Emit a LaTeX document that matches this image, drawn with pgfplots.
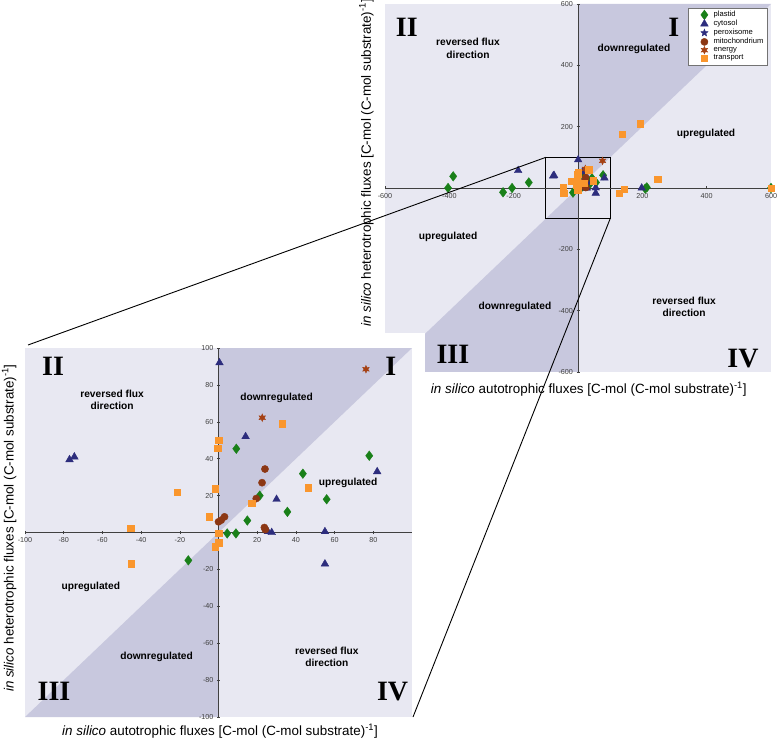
\documentclass[border=0pt]{standalone}
\usepackage{fontspec}
\setmainfont{Liberation Sans}
\newfontfamily\romanfont{Liberation Serif}
\usepackage{pgfplots}
\pgfplotsset{compat=1.18}
\usepackage{pgfplotstable}

\definecolor{bglight}{RGB}{232,232,242}
\definecolor{bgdark}{RGB}{200,200,222}
\definecolor{cplastid}{RGB}{25,128,25}
\definecolor{cnavy}{RGB}{45,45,125}
\definecolor{cmito}{RGB}{140,55,20}
\definecolor{cenergy}{RGB}{165,65,20}
\definecolor{ctrans}{RGB}{250,150,45}

% six-pointed filled star (energy)
\pgfdeclareplotmark{hexstar}{%
  \pgfpathmoveto{\pgfpointpolar{90}{\pgfplotmarksize}}%
  \pgfpathlineto{\pgfpointpolar{120}{0.5\pgfplotmarksize}}%
  \pgfpathlineto{\pgfpointpolar{150}{\pgfplotmarksize}}%
  \pgfpathlineto{\pgfpointpolar{180}{0.5\pgfplotmarksize}}%
  \pgfpathlineto{\pgfpointpolar{210}{\pgfplotmarksize}}%
  \pgfpathlineto{\pgfpointpolar{240}{0.5\pgfplotmarksize}}%
  \pgfpathlineto{\pgfpointpolar{270}{\pgfplotmarksize}}%
  \pgfpathlineto{\pgfpointpolar{300}{0.5\pgfplotmarksize}}%
  \pgfpathlineto{\pgfpointpolar{330}{\pgfplotmarksize}}%
  \pgfpathlineto{\pgfpointpolar{0}{0.5\pgfplotmarksize}}%
  \pgfpathlineto{\pgfpointpolar{30}{\pgfplotmarksize}}%
  \pgfpathlineto{\pgfpointpolar{60}{0.5\pgfplotmarksize}}%
  \pgfpathclose
  \pgfusepathqfillstroke}
% five-pointed filled star (peroxisome)
\pgfdeclareplotmark{fivestar}{%
  \pgfpathmoveto{\pgfpointpolar{90}{\pgfplotmarksize}}%
  \pgfpathlineto{\pgfpointpolar{126}{0.42\pgfplotmarksize}}%
  \pgfpathlineto{\pgfpointpolar{162}{\pgfplotmarksize}}%
  \pgfpathlineto{\pgfpointpolar{198}{0.42\pgfplotmarksize}}%
  \pgfpathlineto{\pgfpointpolar{234}{\pgfplotmarksize}}%
  \pgfpathlineto{\pgfpointpolar{270}{0.42\pgfplotmarksize}}%
  \pgfpathlineto{\pgfpointpolar{306}{\pgfplotmarksize}}%
  \pgfpathlineto{\pgfpointpolar{342}{0.42\pgfplotmarksize}}%
  \pgfpathlineto{\pgfpointpolar{18}{\pgfplotmarksize}}%
  \pgfpathlineto{\pgfpointpolar{54}{0.42\pgfplotmarksize}}%
  \pgfpathclose
  \pgfusepathqfillstroke}

\pgfplotstableread{
x y
-404 0
-388 38
-233 -14
-205 0
-153 18
-15.6 -15.1
4.5 -0.5
9 -0.5
9.2 45.4
14.9 6.5
21.3 20
35.6 11.2
43.6 31.9
55.9 18
77.9 41.6
209 -2
214 2
600 0
}\plastid

\pgfplotstableread{
x y
-186 57
-77 39.5
-74.5 41
0.5 92
14 52
25.5 0.5
27.5 0
30 18
55 0.5
55 -17
82 33
198 0
}\cytosol

\pgfplotstableread{
x y
0 5.8
1.4 6.7
3.1 8.5
19.5 18.4
22.5 27
24 34.4
23.7 2.7
24.2 1.6
}\mito

\pgfplotstableread{
x y
22.6 62.2
76.2 88.5
}\energy

\pgfplotstableread{
x y
-45.3 2.2
-45 -16.9
-21.5 21.8
-4.7 8.5
-1.6 23.8
-1.7 -7.7
0 -5.6
0 -0.5
0 50
-0.5 45.8
17.1 16
33 59
46.4 24.3
128 -16
144 -3
138 175
193 209
248 29
600 0
}\transport

\newcommand{\allseries}{%
  \addplot[only marks, mark=diamond*, mark size=4.8pt, color=cplastid] table {\plastid};
  \addplot[only marks, mark=triangle*, mark size=4.4pt, color=cnavy] table {\cytosol};
  \addlegendimage{only marks, mark=fivestar, mark size=3.8pt, color=cnavy}
  \addplot[only marks, mark=*, mark size=3.6pt, color=cmito] table {\mito};
  \addplot[only marks, mark=hexstar, mark size=3.8pt, color=cenergy] table {\energy};
  \addplot[only marks, mark=square*, mark size=3.2pt, color=ctrans] table {\transport};
}

\pgfplotsset{
  panel/.style={
    scale only axis,
    anchor=south west,
    axis lines=middle,
    axis on top=true,
    axis line style={-, draw=black!75, line width=0.9pt},
    axis background/.style={fill=bglight},
    tick style={black!75, line width=0.6pt},
    major tick length=3pt,
    ticklabel style={font=\fontsize{7.2}{8}\selectfont, text=black!75},
    /pgf/number format/assume math mode=true,
    label style={font=\fontsize{13.4}{15}\selectfont},
  },
}
\tikzset{
  rlab/.style={font=\bfseries\fontsize{10.2}{12.5}\selectfont, align=center},
  rnum/.style={font=\romanfont\bfseries\fontsize{28}{28}\selectfont},
}

\begin{document}
\begin{tikzpicture}
\path[use as bounding box] (0,0) rectangle (778pt,742pt);

% overview panel
\begin{axis}[panel,
  at={(385pt,370pt)}, width=386pt, height=368pt,
  xmin=-600, xmax=600, ymin=-600, ymax=600,
  xtick={-600,-400,-200,200,400,600},
  ytick={-600,-400,-200,200,400,600},
  xlabel={\textit{in silico} autotrophic fluxes [C-mol (C-mol substrate)\textsuperscript{-1}]},
  ylabel={\textit{in silico} heterotrophic fluxes [C-mol (C-mol substrate)\textsuperscript{-1}]},
  xlabel style={at={(axis description cs:0.528,-0.046)}, anchor=center},
  ylabel style={at={(axis description cs:-0.048,0.568)}, anchor=center, rotate=90},
  legend entries={plastid,cytosol,peroxisome,mitochondrium,energy,transport},
  legend cell align=left,
  legend image code/.code={\path (0pt,0pt) (22pt,0pt); \draw[#1] plot coordinates {(15pt,0pt)};},
  legend style={at={(0.99,0.99)}, anchor=north east, draw=black!55, fill=white,
    font=\fontsize{7.6}{8.5}\selectfont, inner sep=1.5pt, row sep=-2pt},
]
\fill[bgdark] (axis cs:0,0) -- (axis cs:0,600) -- (axis cs:600,600) -- cycle;
\fill[bgdark] (axis cs:0,0) -- (axis cs:0,-600) -- (axis cs:-600,-600) -- cycle;
\node[rnum] at (axis cs:-532,524) {II};
\node[rnum] at (axis cs:298,524) {I};
\node[rnum] at (axis cs:-389,-544) {III};
\node[rnum] at (axis cs:513,-556) {IV};
\node[rlab] at (axis cs:-342,456) {reversed flux\\direction};
\node[rlab] at (axis cs:174,453) {downregulated};
\node[rlab] at (axis cs:398,176) {upregulated};
\node[rlab] at (axis cs:-404,-160) {upregulated};
\node[rlab] at (axis cs:-196,-388) {downregulated};
\node[rlab] at (axis cs:330,-388) {reversed flux\\direction};
\allseries
\draw[black, line width=0.9pt] (axis cs:-100,-100) rectangle (axis cs:100,100);
\coordinate (TL) at (axis cs:-100,100);
\coordinate (BR) at (axis cs:100,-100);
\end{axis}

% blank out the corner under the zoomed panel
\fill[white] (0,0) rectangle (425pt,409pt);

% zoomed panel
\begin{axis}[panel,
  at={(25pt,25pt)}, width=387pt, height=369pt,
  xmin=-100, xmax=100, ymin=-100, ymax=100,
  xtick={-100,-80,-60,-40,-20,20,40,60,80},
  ytick={-100,-80,-60,-40,-20,20,40,60,80,100},
  xlabel={\textit{in silico} autotrophic fluxes [C-mol (C-mol substrate)\textsuperscript{-1}]},
  ylabel={\textit{in silico} heterotrophic fluxes [C-mol (C-mol substrate)\textsuperscript{-1}]},
  xlabel style={at={(axis description cs:0.504,-0.038)}, anchor=center},
  ylabel style={at={(axis description cs:-0.041,0.512)}, anchor=center, rotate=90},
]
\fill[bgdark] (axis cs:0,0) -- (axis cs:0,100) -- (axis cs:100,100) -- cycle;
\fill[bgdark] (axis cs:0,0) -- (axis cs:0,-100) -- (axis cs:-100,-100) -- cycle;
\node[rnum] at (axis cs:-85.5,90) {II};
\node[rnum] at (axis cs:89,90) {I};
\node[rnum] at (axis cs:-85,-86) {III};
\node[rnum] at (axis cs:90,-86) {IV};
\node[rlab] at (axis cs:-55,72) {reversed flux\\direction};
\node[rlab] at (axis cs:30,73) {downregulated};
\node[rlab] at (axis cs:67,27) {upregulated};
\node[rlab] at (axis cs:-66,-29.5) {upregulated};
\node[rlab] at (axis cs:-32,-67.5) {downregulated};
\node[rlab] at (axis cs:56,-67.5) {reversed flux\\direction};
\allseries
\coordinate (BTL) at (axis cs:-100,100);
\coordinate (BBR) at (axis cs:100,-100);
\end{axis}

\draw[black, line width=0.9pt] (TL) -- ([shift={(3pt,3pt)}]BTL);
\draw[black, line width=0.9pt] (BR) -- ([shift={(1pt,0pt)}]BBR);
\end{tikzpicture}
\end{document}
